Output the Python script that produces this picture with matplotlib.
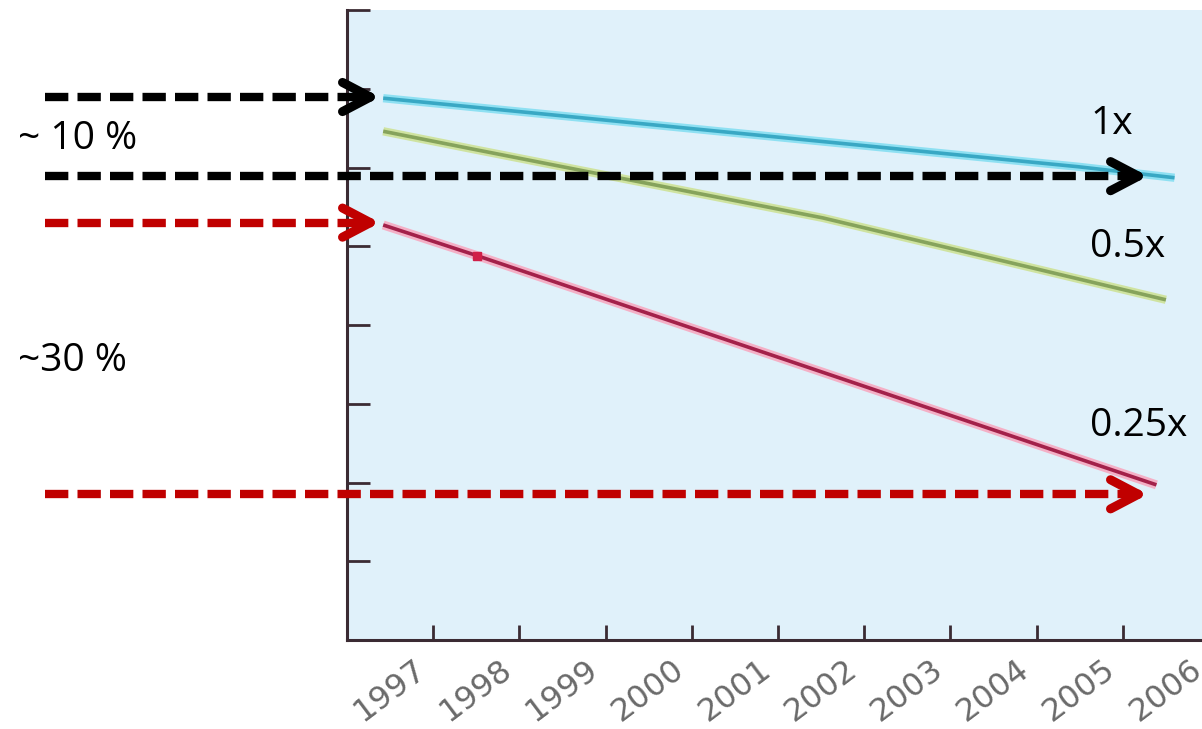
import matplotlib
matplotlib.use("Agg")
import matplotlib.pyplot as plt
import matplotlib.transforms as mtransforms

# data (years on x, arbitrary units on y)
years = list(range(1997, 2007))
x_1x = [1996.42, 2004.48, 2005.6]
y_1x = [6.88, 6.01, 5.87]
x_05x = [1996.42, 1997.43, 2001.52, 2005.5]
y_05x = [6.46, 6.24, 5.36, 4.32]
x_025x = [1996.42, 1997.51, 2005.39]
y_025x = [5.27, 4.88, 1.97]

# levels the dashed arrows point at
black_levels = [6.895, 5.89]
red_levels = [5.30, 1.85]
arrow_x0 = 45 / 1202
arrow_ends = [380 / 1202, 1148 / 1202]

W, H = 1202, 729
fig = plt.figure(figsize=(W / 100, H / 100), dpi=100)
ax = fig.add_axes([347 / W, 89 / H, 870 / W, 630 / H])
ax.set_facecolor("#e0f1fa")
ax.set_xlim(1996, 1996 + 870 / 86.2)
ax.set_ylim(0, 8)

spine_c = "#3b2b33"
for s in ["top", "right"]:
    ax.spines[s].set_visible(False)
for s in ["left", "bottom"]:
    ax.spines[s].set_color(spine_c)
    ax.spines[s].set_linewidth(2.2)

ax.set_yticks(range(1, 9))
ax.set_yticklabels([])
ax.tick_params(axis="y", direction="in", length=16.5, width=2, color=spine_c)
ax.set_xticks(years)
ax.set_xticklabels([str(y) for y in years], rotation=37, ha="right",
                   rotation_mode="anchor", fontsize=23, color="#6a6a6a",
                   family="DejaVu Sans")
ax.tick_params(axis="x", direction="in", length=11, width=2, color=spine_c, pad=4)
shift = mtransforms.ScaledTranslation(-20 / 100, -8 / 100, fig.dpi_scale_trans)
for lab in ax.get_xticklabels():
    lab.set_transform(lab.get_transform() + shift)
    lab.set_clip_on(False)

# the three lines, a soft halo under a darker core
ax.plot(x_1x, y_1x, color="#8ee0f2", lw=6, solid_capstyle="butt")
ax.plot(x_1x, y_1x, color="#39a8c4", lw=2.6, solid_capstyle="butt")
ax.plot(x_05x, y_05x, color="#cfe3a0", lw=6, solid_capstyle="butt")
ax.plot(x_05x, y_05x, color="#86a35c", lw=2.6, solid_capstyle="butt")
ax.plot(x_025x, y_025x, color="#f4b0c6", lw=6.5, solid_capstyle="butt")
ax.plot(x_025x, y_025x, color="#a3214a", lw=2.6, solid_capstyle="butt")
ax.plot(x_025x[1], y_025x[1], "s", color="#d01f48", ms=6)

# dashed arrows: x in figure fraction, y in data units
blend = mtransforms.blended_transform_factory(fig.transFigure, ax.transData)

def dashed_arrow(y, x_end, color):
    ax.plot([arrow_x0, x_end - 8 / W], [y, y], transform=blend, color=color,
            lw=6, dashes=(2.8, 1.1), clip_on=False, zorder=5)
    ax.annotate("", xy=(x_end, y), xycoords=blend,
                xytext=(x_end - 22 / W, y), textcoords=blend,
                arrowprops=dict(arrowstyle="->,head_length=2.0,head_width=1.05",
                                lw=6.5, color=color, shrinkA=0, shrinkB=0),
                annotation_clip=False, zorder=5)

dashed_arrow(black_levels[0], arrow_ends[0], "black")
dashed_arrow(black_levels[1], arrow_ends[1], "black")
dashed_arrow(red_levels[0], arrow_ends[0], "#c00000")
dashed_arrow(red_levels[1], arrow_ends[1], "#c00000")

txt = dict(fontsize=28, family="Open Sans", color="black", va="center")
fig.text(18 / W, 1 - 139 / H, "~ 10 %", ha="left", **txt)
fig.text(18 / W, 1 - 361 / H, "~30 %", ha="left", **txt)
fig.text(1090 / W, 1 - 124 / H, "1x", ha="left", **txt)
fig.text(1090 / W, 1 - 247 / H, "0.5x", ha="left", **txt)
fig.text(1090 / W, 1 - 426 / H, "0.25x", ha="left", **txt)

fig.savefig("out.png", dpi=100)
